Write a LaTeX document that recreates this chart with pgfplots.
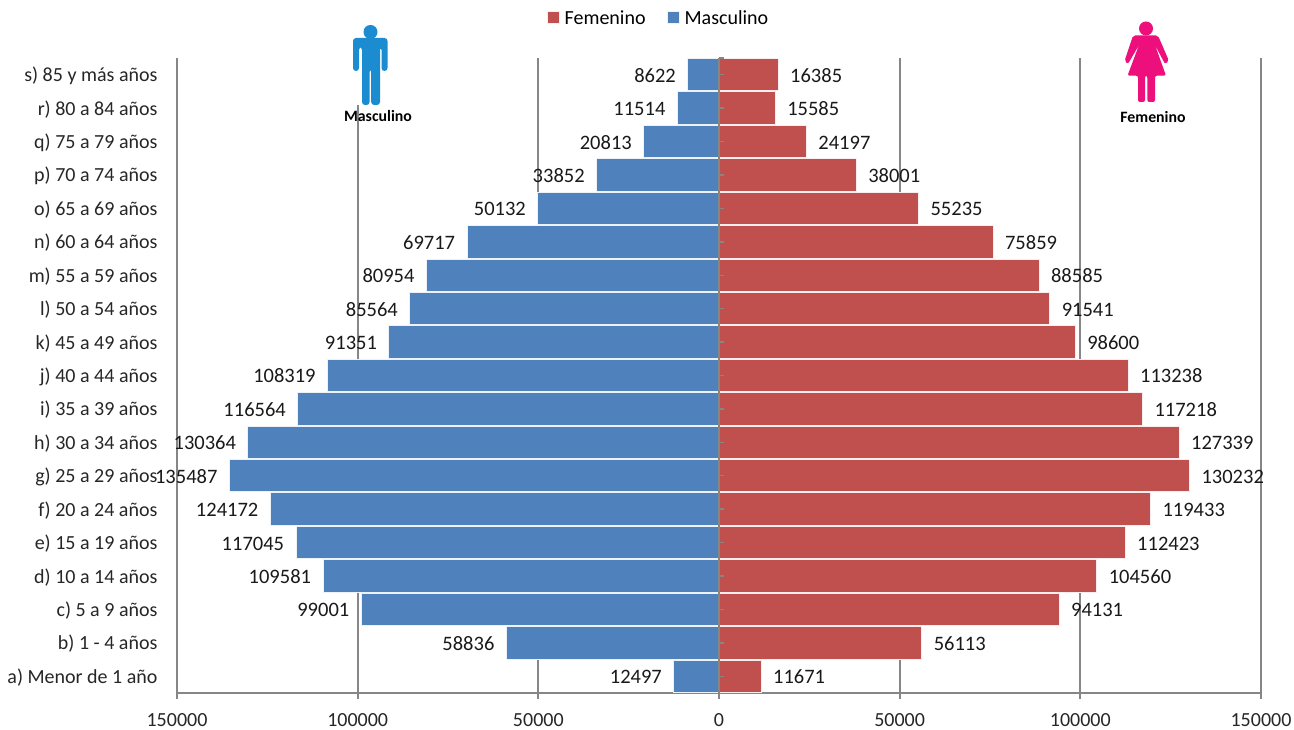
\documentclass[border=0pt]{standalone}
\usepackage{fontspec}
\setmainfont{Carlito}
\usepackage{pgfplots}
\pgfplotsset{compat=1.18}
\usepackage{pgfplotstable}

\definecolor{fem}{HTML}{C0504D}
\definecolor{mas}{HTML}{4F81BD}
\definecolor{gridc}{HTML}{868686}
\definecolor{iconb}{HTML}{1B8CCF}
\definecolor{iconp}{HTML}{EC0F7C}

% y is the category index, from the bottom up; meta is the printed value
\pgfplotstableread{
y x meta
0 -12497 12497
1 -58836 58836
2 -99001 99001
3 -109581 109581
4 -117045 117045
5 -124172 124172
6 -135487 135487
7 -130364 130364
8 -116564 116564
9 -108319 108319
10 -91351 91351
11 -85564 85564
12 -80954 80954
13 -69717 69717
14 -50132 50132
15 -33852 33852
16 -20813 20813
17 -11514 11514
18 -8622 8622
}\masculino

\pgfplotstableread{
y x meta
0 11671 11671
1 56113 56113
2 94131 94131
3 104560 104560
4 112423 112423
5 119433 119433
6 130232 130232
7 127339 127339
8 117218 117218
9 113238 113238
10 98600 98600
11 91541 91541
12 88585 88585
13 75859 75859
14 55235 55235
15 38001 38001
16 24197 24197
17 15585 15585
18 16385 16385
}\femenino

\pgfplotsset{
    barlabels/.style={
        point meta=explicit,
        nodes near coords={\pgfmathprintnumber[fixed,precision=0,1000 sep={},assume math mode=true]{\pgfplotspointmeta}},
        every node near coord/.append style={font=\fontsize{20.5}{24}\selectfont,
            text=black!90, text height=13pt, text depth=0pt, inner sep=0pt, yshift=-1pt},
    },
}

\begin{document}
\begin{tikzpicture}[x=1pt,y=-1pt,yshift=729pt]
\useasboundingbox (0,0) rectangle (1294,729);
\begin{axis}[
    at={(177pt,-693pt)}, anchor=south west,
    scale only axis, width=1084pt, height=635pt,
    xbar, bar shift=0pt, bar width=32.4pt,
    xmin=-150000, xmax=150000,
    ymin=-0.5, ymax=18.5,
    axis x line=bottom, axis y line=left,
    axis line style={-, draw=gridc, line width=2pt},
    scaled x ticks=false,
    xtick={-150000,-100000,...,150000},
    xticklabels={150000,100000,50000,0,50000,100000,150000},
    xmajorgrids,
    major grid style={draw=gridc, line width=2pt},
    tick align=outside,
    major tick length=6pt,
    xtick style={draw=gridc, line width=2pt},
    ytick={0,...,18},
    yticklabels={a) Menor de 1 año, b) 1 - 4 años, c) 5 a 9 años, d) 10 a 14 años,
        e) 15 a 19 años, f) 20 a 24 años, g) 25 a 29 años, h) 30 a 34 años,
        i) 35 a 39 años, j) 40 a 44 años, k) 45 a 49 años, l) 50 a 54 años,
        m) 55 a 59 años, n) 60 a 64 años, o) 65 a 69 años, p) 70 a 74 años,
        q) 75 a 79 años, r) 80 a 84 años, s) 85 y más años},
    ytick style={draw=none},
    tick label style={font=\fontsize{20}{24}\selectfont, text=black!85},
    yticklabel style={xshift=-10pt, yshift=-2.5pt, text height=13pt, text depth=4pt},
    xticklabel style={yshift=-11pt},
    legend image code/.code={\fill[#1] (0pt,-6pt) rectangle (12pt,6pt);},
    legend columns=2,
    legend style={at={(481.5pt,675pt)}, anchor=center, draw=none, fill=none,
        font=\fontsize{20}{24}\selectfont, inner sep=0pt,
        /tikz/every odd column/.append style={column sep=3pt},
        /tikz/every even column/.append style={column sep=19pt}},
    legend cell align=left,
]
\addplot[fill=fem, draw=white!90!fem, line width=1pt, barlabels,
    every node near coord/.append style={anchor=west, xshift=11.5pt}]
    table[x=x, y=y, meta=meta] {\femenino};
\addlegendentry{Femenino}
\addplot[fill=mas, draw=white!90!mas, line width=1pt, barlabels,
    every node near coord/.append style={anchor=east, xshift=-11.5pt}]
    table[x=x, y=y, meta=meta] {\masculino};
\addlegendentry{Masculino}
% vertical axis at zero, on top of the bars
\addplot[sharp plot, draw=gridc, line width=2pt, forget plot]
    coordinates {(0,-0.5) (0,18.5)};
% its small tick marks
\addplot[only marks, mark=-, mark size=2.5pt, mark options={draw=gridc, line width=1.4pt}, forget plot]
    coordinates {(650,0) (650,1) (650,2) (650,3) (650,4) (650,5) (650,6) (650,7) (650,8) (650,9)
        (650,10) (650,11) (650,12) (650,13) (650,14) (650,15) (650,16) (650,17) (650,18) (650,18.5)};
\end{axis}

% pictures pasted over the chart
\fill[white] (349,20) rectangle (392,105);
\fill[iconb] (370.5,32) circle (7);
\fill[iconb, rounded corners=3pt] (353,71) -- (353,38) -- (387.5,38) -- (387.5,71) -- (381.5,71) -- (381.5,47) -- (380,47)
    -- (380,105) -- (371.2,105) -- (371.2,69) -- (369.6,69) -- (369.6,105) -- (362,105) -- (362,47) -- (359,47) -- (359,71) -- cycle;
\node[font=\bfseries\fontsize{15.8}{18}\selectfont, text=black] at (378,116) {Masculino};
\fill[iconp] (1146,28.5) circle (7);
\fill[iconp, rounded corners=2pt] (1133,35.5) -- (1158,35.5) -- (1169,61) -- (1165,64) -- (1155,45) -- (1166,75.7)
    -- (1155,75.7) -- (1155,102) -- (1147.3,102) -- (1147.3,75.7) -- (1145,75.7) -- (1145,102) -- (1138,102) -- (1138,75.7)
    -- (1127.5,75.7) -- (1139,45) -- (1128,64) -- (1124.5,61) -- cycle;
\node[font=\bfseries\fontsize{15.8}{18}\selectfont, text=black] at (1153,117) {Femenino};
\end{tikzpicture}
\end{document}
